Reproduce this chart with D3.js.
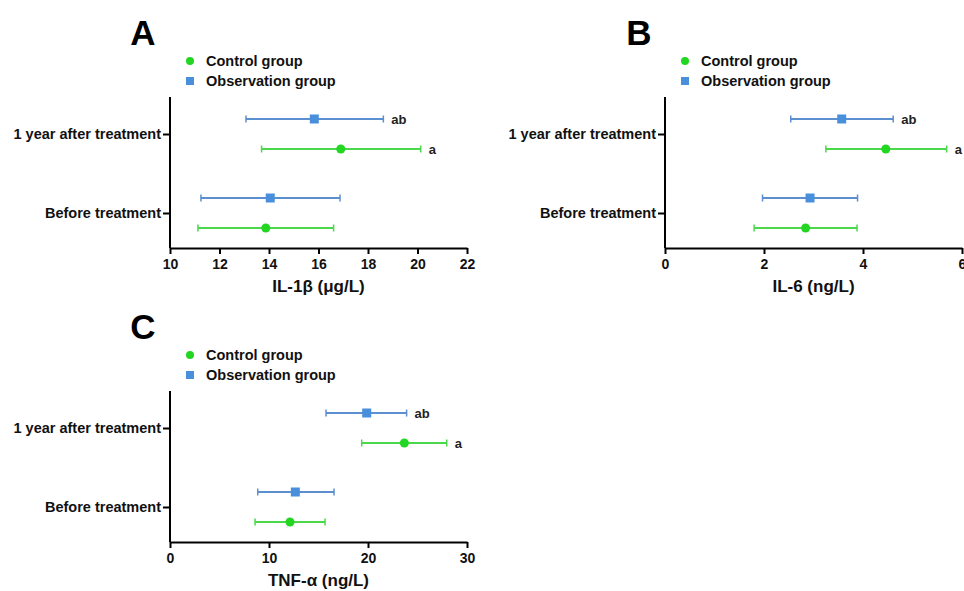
<!DOCTYPE html>
<html>
<head>
<meta charset="utf-8">
<script src="https://cdn.jsdelivr.net/npm/d3@7"></script>
<style>
  body { margin: 0; background: #fff; }
  text { font-family: "Liberation Sans", Arial, sans-serif; }
</style>
</head>
<body>
<div id="chart"></div>
<script>
const categories = ["1 year after treatment", "Before treatment"]
const groups = ["Observation group", "Control group"]
const legendOrder = ["Control group", "Observation group"]

// IL-1β (μg/L)
const il1bControlMean = [16.9, 13.87]
const il1bControlLow = [13.7, 11.13]
const il1bControlHigh = [20.13, 16.61]
const il1bObsMean = [15.83, 14.05]
const il1bObsLow = [13.07, 11.25]
const il1bObsHigh = [18.62, 16.87]

// IL-6 (ng/L)
const il6ControlMean = [4.46, 2.84]
const il6ControlLow = [3.25, 1.80]
const il6ControlHigh = [5.69, 3.88]
const il6ObsMean = [3.57, 2.93]
const il6ObsLow = [2.54, 1.97]
const il6ObsHigh = [4.61, 3.89]

// TNF-α (ng/L)
const tnfControlMean = [23.67, 12.12]
const tnfControlLow = [19.36, 8.59]
const tnfControlHigh = [27.95, 15.66]
const tnfObsMean = [19.87, 12.66]
const tnfObsLow = [15.76, 8.86]
const tnfObsHigh = [23.9, 16.57]

const controlSig = ["a", ""]
const obsSig = ["ab", ""]

const il1bTicks = [10, 12, 14, 16, 18, 20, 22]
const il6Ticks = [0, 2, 4, 6]
const tnfTicks = [0, 10, 20, 30]

const green = "#22d622"
const greenBar = "#4bd84b"
const blue = "#4a8fdc"
const blueBar = "#5b8fcf"

const svg = d3.select("#chart").append("svg")
  .attr("width", 964)
  .attr("height", 591)

function rows(cMean, cLow, cHigh, oMean, oLow, oHigh) {
  let out = []
  for (let i = 0; i < categories.length; i++) {
    out.push({cat: categories[i], group: "Control group", mean: cMean[i], low: cLow[i], high: cHigh[i], sig: controlSig[i]})
    out.push({cat: categories[i], group: "Observation group", mean: oMean[i], low: oLow[i], high: oHigh[i], sig: obsSig[i]})
  }
  return out
}

function drawPanel(p) {
  const g = svg.append("g")

  const x = d3.scaleLinear()
    .domain(d3.extent(p.ticks))
    .range([p.left, p.right])
  const y = d3.scalePoint()
    .domain(categories)
    .range([p.top + 37, p.bottom - 35])
  const dy = d3.scalePoint()
    .domain(groups)
    .range([-15, 15])

  // panel letter
  g.append("text")
    .attr("x", p.letterX)
    .attr("y", p.top - 52)
    .attr("text-anchor", "middle")
    .attr("font-size", 35)
    .attr("font-weight", "bold")
    .attr("fill", "#000")
    .text(p.letter)

  // legend
  legendOrder.forEach(function (name, i) {
    const cy = p.top - 36 + i * 20
    if (name == "Control group") {
      g.append("circle")
        .attr("cx", p.left + 20)
        .attr("cy", cy)
        .attr("r", 4)
        .attr("fill", green)
    } else {
      g.append("rect")
        .attr("x", p.left + 16)
        .attr("y", cy - 4)
        .attr("width", 8)
        .attr("height", 8)
        .attr("fill", blue)
    }
    g.append("text")
      .attr("x", p.left + 36)
      .attr("y", cy)
      .attr("dy", "0.35em")
      .attr("font-size", 14.5)
      .attr("font-weight", "bold")
      .attr("fill", "#111")
      .text(name)
  })

  // axes
  const xAxis = g.append("g")
    .attr("transform", "translate(0," + p.bottom + ")")
    .call(d3.axisBottom(x).tickValues(p.ticks).tickFormat(d3.format("d")).tickSize(6).tickSizeOuter(0))
  xAxis.select(".domain").attr("stroke-width", 2)
  xAxis.selectAll(".tick line").attr("stroke-width", 2)
  xAxis.selectAll(".tick text")
    .attr("font-size", 14)
    .attr("font-weight", "bold")
    .attr("fill", "#111")
    .attr("dy", "0.85em")

  const yAxis = g.append("g")
    .attr("transform", "translate(" + p.left + ",0)")
    .call(d3.axisLeft(y).tickSize(7).tickSizeOuter(0))
  yAxis.select(".domain").attr("d", "M0," + p.top + "V" + p.bottom).attr("stroke-width", 2)
  yAxis.selectAll(".tick line").attr("stroke-width", 2)
  yAxis.selectAll(".tick text")
    .attr("font-size", 14.5)
    .attr("font-weight", "bold")
    .attr("fill", "#111")
    .attr("x", -9)

  g.append("text")
    .attr("x", (p.left + p.right) / 2)
    .attr("y", p.bottom + 44)
    .attr("text-anchor", "middle")
    .attr("font-size", 17)
    .attr("font-weight", "bold")
    .attr("fill", "#111")
    .text(p.title)

  // error bars
  const marks = g.selectAll(".row")
    .data(p.data)
    .enter()
    .append("g")
    .attr("transform", d => "translate(0," + (y(d.cat) + dy(d.group)) + ")")

  marks.append("line")
    .attr("x1", d => x(d.low))
    .attr("x2", d => x(d.high))
    .attr("stroke", d => d.group == "Control group" ? greenBar : blueBar)
    .attr("stroke-width", 2)

  marks.selectAll(".cap")
    .data(d => [d.low, d.high].map(v => ({v: v, group: d.group})))
    .enter()
    .append("line")
    .attr("x1", e => x(e.v))
    .attr("x2", e => x(e.v))
    .attr("y1", -3.5)
    .attr("y2", 3.5)
    .attr("stroke", e => e.group == "Control group" ? greenBar : blueBar)
    .attr("stroke-width", 1.5)

  marks.filter(d => d.group == "Control group")
    .append("circle")
    .attr("cx", d => x(d.mean))
    .attr("r", 4.5)
    .attr("fill", green)

  marks.filter(d => d.group == "Observation group")
    .append("rect")
    .attr("x", d => x(d.mean) - 4.5)
    .attr("y", -4.5)
    .attr("width", 9)
    .attr("height", 9)
    .attr("fill", blue)

  marks.append("text")
    .attr("x", d => x(d.high) + 8)
    .attr("dy", "0.35em")
    .attr("font-size", 13)
    .attr("font-weight", "bold")
    .attr("fill", "#222")
    .text(d => d.sig)
}

drawPanel({
  letter: "A", letterX: 143, left: 170, right: 467, top: 97, bottom: 248,
  ticks: il1bTicks, title: "IL-1β (μg/L)",
  data: rows(il1bControlMean, il1bControlLow, il1bControlHigh, il1bObsMean, il1bObsLow, il1bObsHigh)
})
drawPanel({
  letter: "B", letterX: 639, left: 665, right: 962, top: 97, bottom: 248,
  ticks: il6Ticks, title: "IL-6 (ng/L)",
  data: rows(il6ControlMean, il6ControlLow, il6ControlHigh, il6ObsMean, il6ObsLow, il6ObsHigh)
})
drawPanel({
  letter: "C", letterX: 143, left: 170, right: 467, top: 391, bottom: 542,
  ticks: tnfTicks, title: "TNF-α (ng/L)",
  data: rows(tnfControlMean, tnfControlLow, tnfControlHigh, tnfObsMean, tnfObsLow, tnfObsHigh)
})
</script>
</body>
</html>
